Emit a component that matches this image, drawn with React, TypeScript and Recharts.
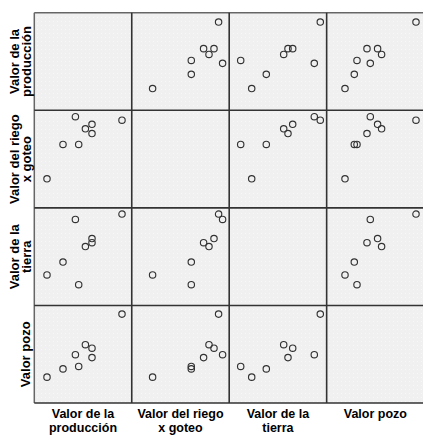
import React from 'react';
import { ScatterChart, Scatter, XAxis, YAxis } from 'recharts';

// Eight observations (relative scale, no tick labels in the source)
const produccion = [88, 13, 58, 58, 51.4, 44.7, 41.4, 29];
const riego = [86.6, 20.6, 82, 71.6, 77, 59.3, 90.6, 59.3];
const tierra = [91.3, 22.7, 63.7, 59, 54.7, 11.7, 85.3, 37.3];
const pozo = [89, 18, 50.6, 40, 54.6, 30, 43.3, 27.3];

const variableNames = ['Valor de la producción', 'Valor del riego x goteo', 'Valor de la tierra', 'Valor pozo'];
const labelLines = [['Valor de la', 'producción'], ['Valor del riego', 'x goteo'], ['Valor de la', 'tierra'], ['Valor pozo']];
const series = [produccion, riego, tierra, pozo];

const X_DOMAIN: [number, number] = [0, 97.45];
const Y_DOMAIN: [number, number] = [-11.8, 98.14];

const L = 34.3;
const T = 12.7;
const PW = 97.45;
const PH = 97.6;

const Ring = (props: any) => {
  const { cx, cy } = props;
  if (cx == null || cy == null) return null;
  return <circle cx={cx} cy={cy} r={3.2} fill="none" stroke="#333" strokeWidth={1.15} />;
};

function Panel({ xi, yi }: { xi: number; yi: number }) {
  const data = series[xi].map((v, k) => ({ x: v, y: series[yi][k] }));
  return (
    <ScatterChart width={PW} height={PH} margin={{ top: 0, right: 0, bottom: 0, left: 0 }}>
      <XAxis type="number" dataKey="x" hide domain={X_DOMAIN} allowDataOverflow />
      <YAxis type="number" dataKey="y" hide domain={Y_DOMAIN} allowDataOverflow />
      <Scatter name={variableNames[yi] + ' / ' + variableNames[xi]} data={data} shape={<Ring />} isAnimationActive={false} />
    </ScatterChart>
  );
}

export default function App() {
  const font = '"Liberation Sans", Arial, sans-serif';
  const bottom = T + 4 * PH;
  const panels: React.ReactNode[] = [];
  for (let yi = 0; yi < 4; yi++) {
    for (let xi = 0; xi < 4; xi++) {
      if (xi === yi) continue;
      panels.push(
        <div key={`${yi}-${xi}`} style={{ position: 'absolute', left: L + xi * PW, top: T + yi * PH, width: PW, height: PH }}>
          <Panel xi={xi} yi={yi} />
        </div>
      );
    }
  }
  return (
    <div style={{ position: 'absolute', left: 0, top: 0, width: 423, height: 435, background: '#fff', overflow: 'hidden' }}>
      <svg width={423} height={435} style={{ position: 'absolute', left: 0, top: 0 }}>
        <defs>
          <pattern id="dots" width="4" height="4" patternUnits="userSpaceOnUse">
            <rect width="4" height="4" fill="#f0f0f0" />
            <rect x="1" y="1" width="1" height="1" fill="#f7f7f7" />
          </pattern>
        </defs>
        <rect x={L} y={T} width={423 - L + 2} height={4 * PH} fill="url(#dots)" />
        <line x1={L} y1={T} x2={L} y2={bottom} stroke="#666" strokeWidth={1.5} />
        <line x1={L} y1={T} x2={425} y2={T} stroke="#666" strokeWidth={1.5} />
        <line x1={L} y1={bottom} x2={425} y2={bottom} stroke="#333" strokeWidth={1.5} />
        {[1, 2, 3].map((i) => (
          <line key={'v' + i} x1={L + i * PW} y1={T} x2={L + i * PW} y2={bottom} stroke="#333" strokeWidth={1.6} />
        ))}
        {[1, 2, 3].map((j) => (
          <line key={'h' + j} x1={L} y1={T + j * PH} x2={425} y2={T + j * PH} stroke="#333" strokeWidth={1.6} />
        ))}
        {labelLines.map((lines, i) => {
          const cx = L + PW * (i + 0.5);
          return (
            <g key={'b' + i}>
              {lines.map((ln, k) => (
                <text key={k} x={cx} y={418 + k * 14} textAnchor="middle" fontFamily={font} fontWeight="bold" fontSize={12.5} fill="#000">
                  {ln}
                </text>
              ))}
            </g>
          );
        })}
        {labelLines.map((lines, j) => {
          const cy = T + PH * (j + 0.5);
          const bases = lines.length === 2 ? [19, 31] : [30.5];
          return (
            <g key={'l' + j}>
              {lines.map((ln, k) => (
                <text key={k} x={bases[k]} y={cy} transform={`rotate(-90, ${bases[k]}, ${cy})`} textAnchor="middle" fontFamily={font} fontWeight="bold" fontSize={13} fill="#000">
                  {ln}
                </text>
              ))}
            </g>
          );
        })}
      </svg>
      {panels}
    </div>
  );
}
